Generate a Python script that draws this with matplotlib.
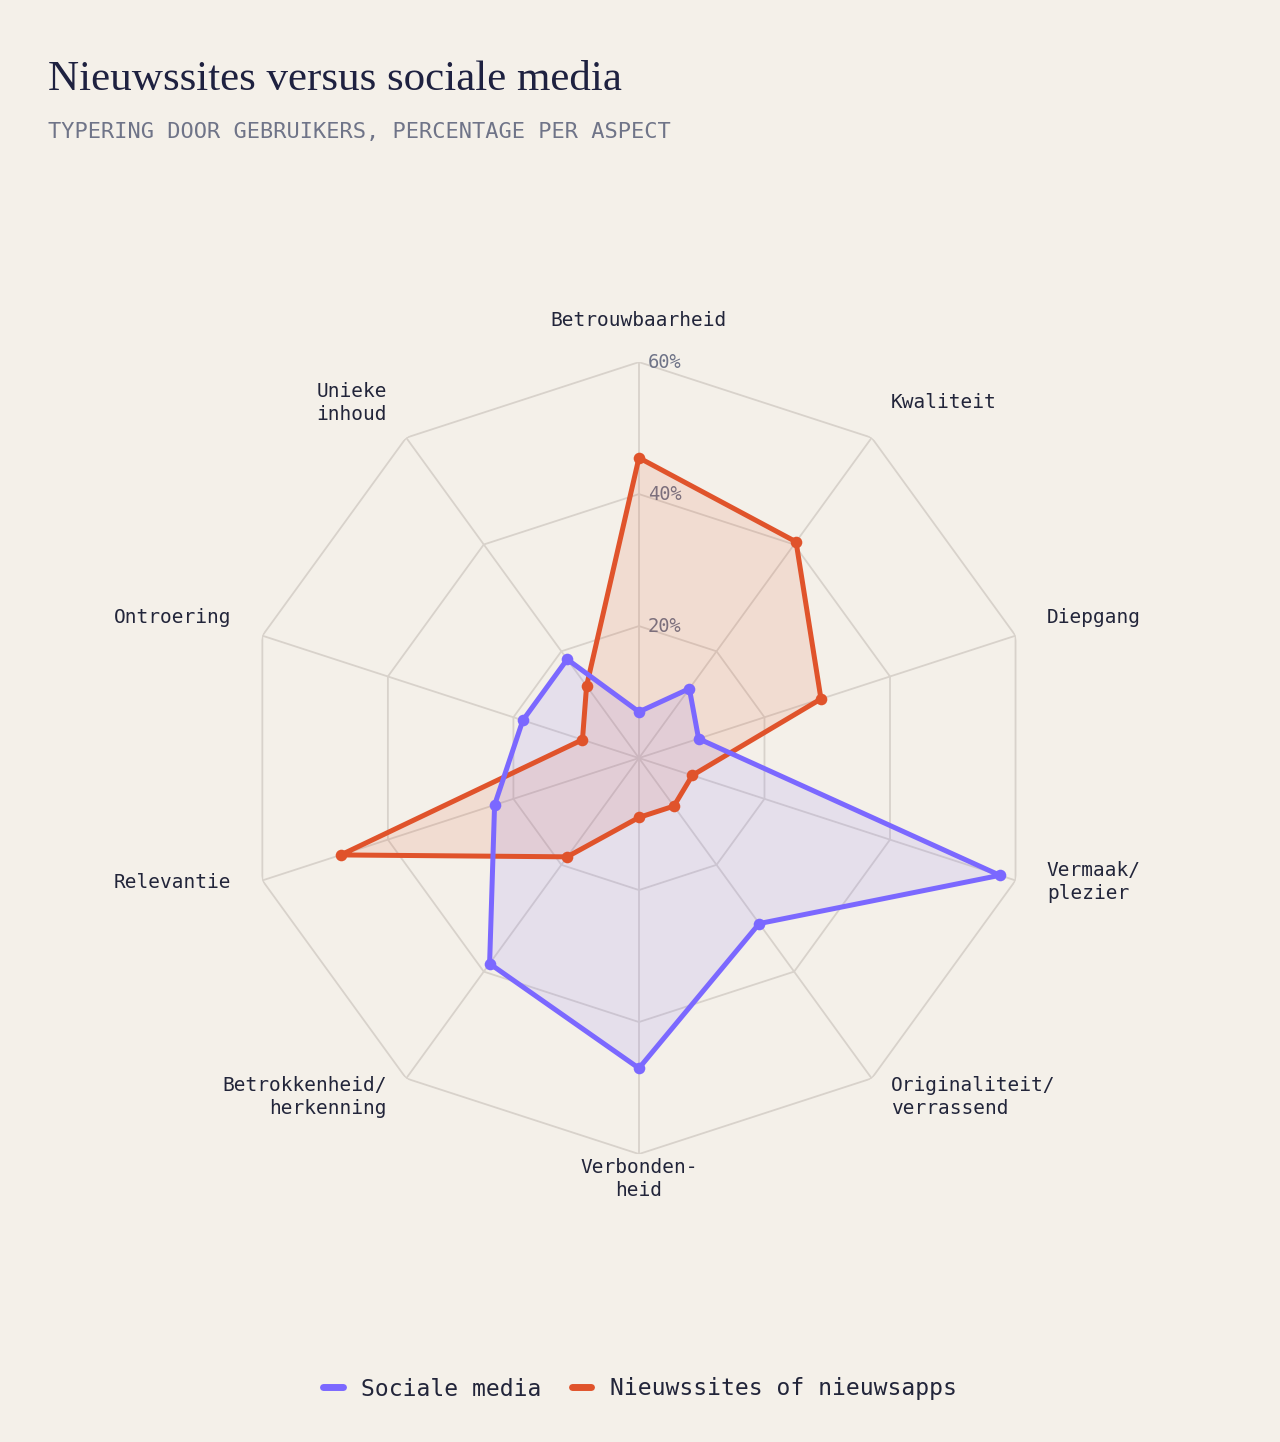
import numpy as np
import matplotlib
matplotlib.use('Agg')
import matplotlib.pyplot as plt
from matplotlib.lines import Line2D

# aspecten, met de klok mee vanaf boven
aspecten = ['Betrouwbaarheid', 'Kwaliteit', 'Diepgang', 'Vermaak/\nplezier',
            'Originaliteit/\nverrassend', 'Verbonden-\nheid', 'Betrokkenheid/\nherkenning',
            'Relevantie', 'Ontroering', 'Unieke\ninhoud']
sociale_media = [7, 13, 9.5, 57.5, 31, 47, 38.5, 23, 18.5, 18.5]
nieuwssites = [45.5, 40.5, 29, 8.5, 9, 9, 18.5, 47.5, 9, 13.5]
ringen = [20, 40, 60]
ring_labels = ['20%', '40%', '60%']

BG = '#F4F0E9'
PAARS = '#7B68FF'
ROOD = '#E0532B'
GRID = '#D8D2CB'
TEKST = '#22253A'
GRIJS = '#6F7488'
MONO = 'DejaVu Sans Mono'

fig = plt.figure(figsize=(12.8, 14.42), dpi=100, facecolor=BG)
ax = fig.add_axes([0.1898, 0.1997, 0.61875, 0.5492], projection='polar')
ax.set_facecolor('none')
ax.set_theta_zero_location('N')
ax.set_theta_direction(-1)
ax.set_ylim(0, 60)
ax.axis('off')

n = len(aspecten)
hoeken = np.linspace(0, 2 * np.pi, n, endpoint=False)
gesloten = np.append(hoeken, hoeken[0])

# polygoon-raster
for r in ringen:
    ax.plot(gesloten, [r] * (n + 1), color=GRID, lw=1.3, zorder=1)
for h in hoeken:
    ax.plot([h, h], [0, 60], color=GRID, lw=1.3, zorder=1)

for r, lab in zip(ringen, ring_labels):
    ax.annotate(lab, xy=(0, r), xytext=(6.5, -0.5), textcoords='offset points',
                ha='left', va='center', fontsize=13.5, color=GRIJS, family=MONO, zorder=2)

for waarden, kleur in [(nieuwssites, ROOD), (sociale_media, PAARS)]:
    w = np.append(waarden, waarden[0])
    ax.fill(gesloten, w, color=kleur, alpha=0.12, zorder=3, lw=0)
for waarden, kleur in [(nieuwssites, ROOD), (sociale_media, PAARS)]:
    w = np.append(waarden, waarden[0])
    ax.plot(gesloten, w, color=kleur, lw=3.6, zorder=4, solid_joinstyle='round')
    ax.scatter(hoeken, waarden, s=70, color=kleur, zorder=5, lw=0)

# labels rond de kaart
for h, lab in zip(hoeken, aspecten):
    s = np.sin(h)
    if abs(s) < 0.1:
        ha = 'center'
    elif s > 0:
        ha = 'left'
    else:
        ha = 'right'
    ax.annotate(lab, xy=(h, 65), xytext=(0, 6), textcoords='offset points',
                ha=ha, va='center', fontsize=14, color=TEKST,
                family=MONO, linespacing=1.25, annotation_clip=False)

fig.text(48 / 1280, 1 - 80 / 1442, 'Nieuwssites versus sociale media', fontsize=31,
         family='Liberation Serif', color='#1E2140', va='center', ha='left')
fig.text(48 / 1280, 1 - 132 / 1442, 'TYPERING DOOR GEBRUIKERS, PERCENTAGE PER ASPECT',
         fontsize=15.8, family=MONO, color=GRIJS, va='center', ha='left')

handles = [Line2D([], [], color=PAARS, lw=5, solid_capstyle='round'),
           Line2D([], [], color=ROOD, lw=5, solid_capstyle='round')]
fig.legend(handles, ['Sociale media', 'Nieuwssites of nieuwsapps'], loc='center',
           bbox_to_anchor=(0.5, 1 - 1389 / 1442), ncol=2, frameon=False,
           prop={'family': MONO, 'size': 16.6}, labelcolor=TEKST,
           handlelength=0.85, columnspacing=1.3, handletextpad=0.8)

fig.savefig('out.png', dpi=100, facecolor=BG)
